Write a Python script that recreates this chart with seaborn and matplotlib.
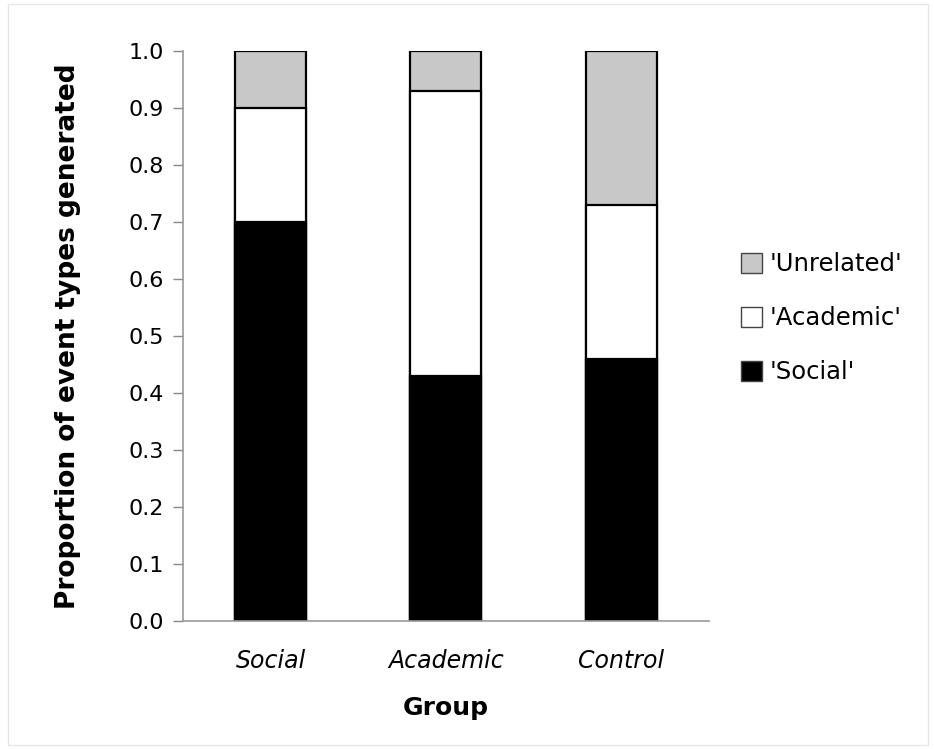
import matplotlib
matplotlib.use("Agg")
import matplotlib.pyplot as plt
import seaborn as sns
import pandas as pd
import numpy as np
from matplotlib.patches import Patch, Rectangle

groups = ["Social", "Academic", "Control"]
social = [0.70, 0.43, 0.46]
academic = [0.20, 0.50, 0.27]
unrelated = [0.10, 0.07, 0.27]

series_names = ["'Unrelated'", "'Academic'", "'Social'"]
series_colors = ["#c8c8c8", "#ffffff", "#000000"]

sns.set_theme(style="white")
plt.rcParams['font.family'] = ['DejaVu Sans']
plt.rcParams['text.color'] = 'black'
plt.rcParams['axes.labelcolor'] = 'black'
plt.rcParams['xtick.color'] = 'black'
plt.rcParams['ytick.color'] = 'black'

s = np.array(social)
a = np.array(academic)
u = np.array(unrelated)
cum = {
    "'Unrelated'": s + a + u,
    "'Academic'": s + a,
    "'Social'": s,
}

fig = plt.figure(figsize=(9.34, 7.49), dpi=100)
ax = fig.add_axes([0.196, 0.171, 0.563, 0.761])

for name, col in zip(series_names, series_colors):
    df = pd.DataFrame({"Group": groups, "value": cum[name]})
    sns.barplot(data=df, x="Group", y="value", color=col, width=0.405,
                edgecolor="black", linewidth=1.6, saturation=1, ax=ax, errorbar=None)

ax.set_xlim(-0.5, 2.5)
ax.set_ylim(0, 1.0)
ax.set_yticks(np.arange(0, 1.01, 0.1))
ax.set_yticklabels([f"{v:.1f}" for v in np.arange(0, 1.01, 0.1)], fontsize=16)
ax.set_xticks([0, 1, 2])
ax.set_xticklabels(groups, fontsize=17, style="italic")
ax.set_xticks([-0.5, 0.5, 1.5, 2.5], minor=True)
ax.tick_params(axis="x", which="major", length=0, pad=20, labelcolor="black")
ax.tick_params(axis="x", which="minor", length=7, width=1, color="#888888", direction="out")
ax.tick_params(axis="y", length=7, width=1, color="#888888", direction="out", pad=7,
               left=True, labelcolor="black")

for side in ["top", "right"]:
    ax.spines[side].set_visible(False)
for side in ["left", "bottom"]:
    ax.spines[side].set_color("#999999")
    ax.spines[side].set_linewidth(1.2)

ax.set_xlabel("Group", fontsize=18, fontweight="bold", labelpad=17, color="black")
ax.set_ylabel("Proportion of event types generated", fontsize=19, fontweight="bold",
              labelpad=34, color="black")

handles = [Patch(facecolor=c, edgecolor="#444444", linewidth=1) for c in series_colors]
leg = fig.legend(handles, series_names, loc="center left", bbox_to_anchor=(0.793, 0.575),
                 frameon=False, fontsize=17.5, handlelength=0.86, handleheight=0.86,
                 handletextpad=0.35, labelspacing=1.23, borderpad=0, borderaxespad=0)
for t in leg.get_texts():
    t.set_color("black")

fig.patches.append(Rectangle((0.009, 0.006), 0.985, 0.988, transform=fig.transFigure,
                             fill=False, edgecolor="#e6e6e6", linewidth=1))

fig.savefig("out.png", dpi=100, facecolor="white")
